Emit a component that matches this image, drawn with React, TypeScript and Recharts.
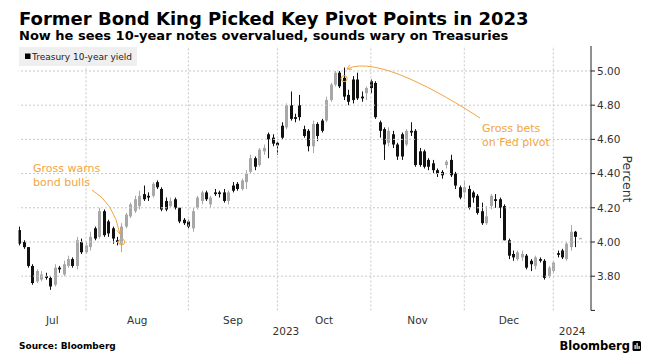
import React from 'react';
import { ComposedChart, Bar, XAxis, YAxis, ReferenceLine, ReferenceDot } from 'recharts';

const FONT = '"DejaVu Sans", Verdana, sans-serif';
const ORANGE = '#f2a53f';
const UP = '#a8a8a8';
const DOWN = '#111111';

// ---- categories: trading days per month ----
const monthNames = ['Jul', 'Aug', 'Sep', 'Oct', 'Nov', 'Dec', 'Jan'];
const monthYears = [2023, 2023, 2023, 2023, 2023, 2023, 2024];
const julDays = [10, 11, 12, 13, 14, 17, 18, 19, 20, 21, 24, 25, 26, 27, 28, 31];
const augDays = [1, 2, 3, 4, 7, 8, 9, 10, 11, 14, 15, 16, 17, 18, 21, 22, 23, 24, 25, 28, 29, 30, 31];
const sepDays = [1, 5, 6, 7, 8, 11, 12, 13, 14, 15, 18, 19, 20, 21, 22, 25, 26, 27, 28, 29];
const octDays = [2, 3, 4, 5, 6, 10, 11, 12, 13, 16, 17, 18, 19, 20, 23, 24, 25, 26, 27, 30, 31];
const novDays = [1, 2, 3, 6, 7, 8, 9, 10, 13, 14, 15, 16, 17, 20, 21, 22, 24, 27, 28, 29, 30];
const decDays = [1, 4, 5, 6, 7, 8, 11, 12, 13, 14, 15, 18, 19, 20, 21, 22, 26, 27, 28, 29];
const janDays = [2, 3, 4, 5, 8, 9];
const tradingDays = [julDays, augDays, sepDays, octDays, novDays, decDays, janDays];

// ---- series: Treasury 10-year yield OHLC (percent) ----
const opens = [
  4.07, 4.0, 3.97, 3.86, 3.77, 3.78, 3.8, 3.79, 3.75, 3.85, 3.81, 3.86, 3.9, 3.86, 4.0, 3.94,
  3.97, 4.08, 4.03, 4.18, 4.12, 4.08, 4.01, 3.99, 4.09, 4.15, 4.18, 4.21, 4.28, 4.27, 4.27, 4.35, 4.31, 4.24, 4.21, 4.25, 4.2, 4.13, 4.12,
  4.08, 4.2, 4.24, 4.29, 4.22, 4.29, 4.29, 4.29, 4.24, 4.33, 4.34, 4.31, 4.35, 4.41, 4.49, 4.45, 4.53, 4.63, 4.61, 4.58,
  4.68, 4.67, 4.8, 4.73, 4.8, 4.66, 4.65, 4.56, 4.69, 4.71, 4.71, 4.83, 4.92, 4.99, 4.96, 4.86, 4.95, 4.95, 4.85, 4.87, 4.94,
  4.93, 4.7, 4.66, 4.58, 4.63, 4.57, 4.63, 4.57, 4.65, 4.65, 4.53, 4.53, 4.48, 4.46, 4.42, 4.41, 4.45, 4.48, 4.4, 4.32, 4.29,
  4.31, 4.29, 4.27, 4.18, 4.11, 4.21, 4.25, 4.25, 4.21, 4.01, 3.93, 3.9, 3.91, 3.92, 3.89, 3.86, 3.9, 3.89, 3.8, 3.83,
  3.935, 3.95, 3.9, 3.97, 4.06, 4.02,
];
const highs = [
  4.09, 4.01, 3.97, 3.87, 3.84, 3.83, 3.82, 3.8, 3.87, 3.86, 3.89, 3.92, 3.91, 4.03, 4.02, 4.0,
  4.06, 4.09, 4.2, 4.19, 4.13, 4.09, 4.03, 4.11, 4.17, 4.23, 4.27, 4.3, 4.33, 4.29, 4.35, 4.36, 4.32, 4.26, 4.26, 4.26, 4.2, 4.14, 4.13,
  4.2, 4.27, 4.3, 4.3, 4.27, 4.31, 4.3, 4.31, 4.3, 4.35, 4.35, 4.37, 4.42, 4.51, 4.5, 4.55, 4.57, 4.64, 4.63, 4.59,
  4.7, 4.81, 4.88, 4.75, 4.86, 4.68, 4.66, 4.71, 4.7, 4.72, 4.85, 4.93, 5.0, 5.0, 5.02, 4.89, 4.97, 4.99, 4.88, 4.91, 4.95,
  4.94, 4.71, 4.67, 4.67, 4.65, 4.58, 4.64, 4.66, 4.7, 4.66, 4.55, 4.54, 4.49, 4.48, 4.43, 4.42, 4.48, 4.51, 4.41, 4.33, 4.36,
  4.33, 4.3, 4.28, 4.23, 4.21, 4.28, 4.28, 4.26, 4.22, 4.02, 3.95, 3.95, 3.95, 3.93, 3.9, 3.92, 3.91, 3.9, 3.86, 3.89,
  3.95, 3.96, 4.0, 4.1, 4.065, 4.025,
];
const lows = [
  3.98, 3.96, 3.85, 3.75, 3.76, 3.77, 3.78, 3.72, 3.74, 3.82, 3.8, 3.85, 3.85, 3.84, 3.93, 3.93,
  3.95, 4.01, 4.02, 4.03, 4.03, 3.99, 3.98, 3.94, 4.08, 4.14, 4.17, 4.19, 4.24, 4.24, 4.26, 4.31, 4.18, 4.18, 4.2, 4.19, 4.11, 4.1, 4.08,
  4.06, 4.19, 4.22, 4.24, 4.2, 4.27, 4.26, 4.23, 4.22, 4.29, 4.3, 4.3, 4.31, 4.4, 4.42, 4.44, 4.51, 4.49, 4.56, 4.51,
  4.6, 4.66, 4.71, 4.7, 4.71, 4.61, 4.53, 4.52, 4.59, 4.64, 4.7, 4.82, 4.91, 4.9, 4.83, 4.8, 4.81, 4.83, 4.82, 4.83, 4.87,
  4.72, 4.61, 4.48, 4.56, 4.55, 4.48, 4.48, 4.56, 4.62, 4.44, 4.44, 4.43, 4.42, 4.4, 4.38, 4.37, 4.43, 4.38, 4.31, 4.25, 4.25,
  4.19, 4.23, 4.16, 4.1, 4.1, 4.19, 4.2, 4.14, 4.01, 3.9, 3.89, 3.89, 3.89, 3.84, 3.83, 3.84, 3.88, 3.78, 3.79, 3.82,
  3.91, 3.9, 3.89, 3.95, 3.97, 4.02,
];
const closes = [
  3.99, 3.97, 3.86, 3.76, 3.83, 3.81, 3.79, 3.74, 3.85, 3.84, 3.87, 3.9, 3.86, 4.01, 3.94, 3.98,
  4.03, 4.02, 4.18, 4.04, 4.05, 4.02, 4.0, 4.09, 4.16, 4.22, 4.25, 4.27, 4.25, 4.26, 4.34, 4.32, 4.19, 4.19, 4.24, 4.2, 4.12, 4.11, 4.09,
  4.18, 4.26, 4.29, 4.25, 4.26, 4.28, 4.28, 4.24, 4.29, 4.3, 4.31, 4.36, 4.4, 4.49, 4.44, 4.54, 4.55, 4.6, 4.575, 4.565,
  4.61, 4.8, 4.72, 4.72, 4.73, 4.62, 4.56, 4.69, 4.62, 4.65, 4.83, 4.92, 4.99, 4.91, 4.85, 4.82, 4.83, 4.84, 4.84, 4.9, 4.9,
  4.73, 4.65, 4.57, 4.65, 4.57, 4.5, 4.5, 4.65, 4.64, 4.45, 4.45, 4.44, 4.44, 4.42, 4.4, 4.39, 4.47, 4.39, 4.33, 4.26, 4.32,
  4.2, 4.26, 4.17, 4.11, 4.15, 4.27, 4.24, 4.2, 4.01, 3.92, 3.91, 3.94, 3.93, 3.85, 3.87, 3.91, 3.89, 3.79, 3.85, 3.88,
  3.925, 3.91, 3.99, 4.06, 4.03, 4.022,
];

// ---- axis ticks ----
const yTicks = [3.6, 3.8, 4.0, 4.2, 4.4, 4.6, 4.8, 5.0];
const yGridValues = [3.8, 4.0, 4.2, 4.4, 4.6, 4.8, 5.0];
const Y_MIN = 3.6;
const Y_MAX = 5.146;
const X_MIN = -0.18;
const X_MAX = 128.47;

// ---- build rows ----
type Row = { i: number; date: string; open: number; high: number; low: number; close: number };
const rows: Row[] = [];
const lastIndexOfMonth: number[] = [];
tradingDays.forEach((days, m) => {
  days.forEach((d) => {
    const k = rows.length;
    rows.push({
      i: k,
      date: `${monthNames[m]} ${d}, ${monthYears[m]}`,
      open: opens[k],
      high: highs[k],
      low: lows[k],
      close: closes[k],
    });
  });
  lastIndexOfMonth.push(rows.length - 1);
});

// month separators at the last trading day of each month
const monthBoundaries = lastIndexOfMonth.slice(0, -1);

const xTickValues: number[] = [];
const xTickLabels: string[] = [];
const xTickIsYear: boolean[] = [];
monthNames.forEach((name, m) => {
  if (name === 'Jan') return;
  const left = m === 0 ? X_MIN : monthBoundaries[m - 1];
  const right = m < monthBoundaries.length ? monthBoundaries[m] : X_MAX;
  xTickValues.push((left + right) / 2);
  xTickLabels.push(name);
  xTickIsYear.push(false);
});
const years = Array.from(new Set(monthYears));
years.forEach((yr) => {
  const firstM = monthYears.indexOf(yr);
  const lastM = monthYears.lastIndexOf(yr);
  const left = firstM === 0 ? X_MIN : monthBoundaries[firstM - 1];
  const right = lastM < monthBoundaries.length ? monthBoundaries[lastM] : X_MAX;
  xTickValues.push((left + right) / 2);
  xTickLabels.push(String(yr));
  xTickIsYear.push(true);
});

// annotation anchors (data coordinates)
const warnIndex = 23; // Aug 10
const warnValue = 4.0;
const pivotIndex = 73; // Oct 23
const pivotValue = 4.955;

function Candle(props: any) {
  const { x, y, width, height, payload } = props;
  if (x == null || y == null || !payload) return null;
  const top = Math.min(y, y + height);
  const h = Math.abs(height);
  const { open, high, low, close } = payload as Row;
  const pix = (v: number) => (high === low ? top : top + ((high - v) / (high - low)) * h);
  const cx = Math.floor(x + width / 2);
  const po = pix(open);
  const pc = pix(close);
  const bTop = Math.min(po, pc);
  const bH = Math.max(1, Math.abs(po - pc));
  const color = close >= open ? UP : DOWN;
  return (
    <g>
      <rect x={cx} y={top} width={1} height={Math.max(h, 1)} fill={color} />
      <rect x={cx - 1} y={bTop} width={3} height={bH} fill={color} />
    </g>
  );
}

function XTick(props: any) {
  const { x, y, payload } = props;
  const k = xTickValues.findIndex((v) => Math.abs(v - payload.value) < 1e-6);
  if (k < 0) return null;
  const isYear = xTickIsYear[k];
  return (
    <text x={x} y={y + (isYear ? 24.5 : 13.5)} textAnchor="middle" fontSize={10.5} fontFamily={FONT} fill="#333">
      {xTickLabels[k]}
    </text>
  );
}

function YTick(props: any) {
  const { x, y, payload } = props;
  if (payload.value < 3.7) return <g />;
  return (
    <text x={x} y={y + 3.8} textAnchor="start" fontSize={10.5} fontFamily={FONT} fill="#333">
      {Number(payload.value).toFixed(2)}
    </text>
  );
}

function arrowHead(tx: number, ty: number, fx: number, fy: number, len = 5) {
  const dx = fx - tx;
  const dy = fy - ty;
  const d = Math.hypot(dx, dy) || 1;
  const ux = dx / d;
  const uy = dy / d;
  const a = Math.PI / 6;
  const r1x = ux * Math.cos(a) - uy * Math.sin(a);
  const r1y = ux * Math.sin(a) + uy * Math.cos(a);
  const r2x = ux * Math.cos(-a) - uy * Math.sin(-a);
  const r2y = ux * Math.sin(-a) + uy * Math.cos(-a);
  return `M${tx + r1x * len},${ty + r1y * len} L${tx},${ty} L${tx + r2x * len},${ty + r2y * len}`;
}

export default function App() {
  return (
    <div style={{ position: 'fixed', left: 0, top: 0, width: 646, height: 363, background: '#fff', overflow: 'hidden' }}>
      <div style={{ position: 'absolute', left: 0, top: 0 }}>
        <ComposedChart
          width={646}
          height={363}
          data={rows}
          margin={{ top: 46, right: 0, bottom: 22.6, left: 18.5 }}
        >
          <XAxis
            xAxisId="x"
            dataKey="i"
            type="number"
            domain={[X_MIN, X_MAX]}
            allowDataOverflow
            ticks={xTickValues}
            interval={0}
            tickLine={false}
            axisLine={false}
            tickSize={0}
            tickMargin={0}
            height={30}
            tick={<XTick />}
          />
          <YAxis
            yAxisId="y"
            orientation="right"
            domain={[Y_MIN, Y_MAX]}
            allowDataOverflow
            ticks={yTicks}
            interval={0}
            width={55}
            tickSize={4}
            tickMargin={2}
            axisLine={{ stroke: '#222' }}
            tickLine={{ stroke: '#222' }}
            tick={<YTick />}
          />
          {yGridValues.map((v) => (
            <ReferenceLine key={`h${v}`} xAxisId="x" yAxisId="y" y={v} stroke="#c8c8c8" strokeDasharray="2 2" />
          ))}
          {monthBoundaries.map((b) => (
            <ReferenceLine key={`v${b}`} xAxisId="x" yAxisId="y" x={b} stroke="#c8c8c8" strokeDasharray="2 2" />
          ))}
          <Bar
            xAxisId="x"
            yAxisId="y"
            dataKey={(d: Row) => [d.low, d.high]}
            barSize={3}
            shape={(p: any) => <Candle {...p} />}
            isAnimationActive={false}
          />
          <ReferenceDot xAxisId="x" yAxisId="y" x={warnIndex} y={warnValue} r={3} fill="none" stroke={ORANGE} strokeWidth={1} />
          <ReferenceDot xAxisId="x" yAxisId="y" x={pivotIndex} y={pivotValue} r={3} fill="none" stroke={ORANGE} strokeWidth={1} />
        </ComposedChart>
      </div>
      <svg width={646} height={363} style={{ position: 'absolute', left: 0, top: 0, pointerEvents: 'none' }}>
        <text x={19} y={25} fontSize={18} fontWeight={700} fontFamily={FONT} fill="#000">
          Former Bond King Picked Key Pivot Points in 2023
        </text>
        <text x={19} y={40} fontSize={13} fontWeight={700} fontFamily={FONT} fill="#000">
          Now he sees 10-year notes overvalued, sounds wary on Treasuries
        </text>
        <rect x={19} y={47} width={118} height={19} fill="#efefef" />
        <rect x={25} y={53.5} width={5.5} height={5.5} fill="#000" />
        <text x={32} y={59.5} fontSize={9} fontFamily={FONT} fill="#222">
          Treasury 10-year yield
        </text>
        <text transform="translate(623,179) rotate(90)" textAnchor="middle" fontSize={12.5} fontFamily={FONT} fill="#333">
          Percent
        </text>
        <text fontSize={11} fontFamily={FONT} fill={ORANGE}>
          <tspan x={33} y={172}>Gross warns</tspan>
          <tspan x={33} y={186}>bond bulls</tspan>
        </text>
        <path d="M92,190 Q114,203 120,234" stroke={ORANGE} fill="none" strokeWidth={1} />
        <path d={arrowHead(120, 234, 114, 203)} stroke={ORANGE} fill="none" strokeWidth={1} />
        <text fontSize={11} fontFamily={FONT} fill={ORANGE}>
          <tspan x={482} y={132}>Gross bets</tspan>
          <tspan x={482} y={146}>on Fed pivot</tspan>
        </text>
        <path d="M480,118 C440,92 375,55 347,69" stroke={ORANGE} fill="none" strokeWidth={1} />
        <path d={arrowHead(347, 69, 375, 55)} stroke={ORANGE} fill="none" strokeWidth={1} />
        <text x={19} y={349} fontSize={9} fontWeight={700} fontFamily={FONT} fill="#000">
          Source: Bloomberg
        </text>
        <text x={630} y={350} textAnchor="end" fontSize={11.5} fontWeight={700} fontFamily={FONT} fill="#000">
          Bloomberg
        </text>
        <rect x={632.5} y={341} width={8.5} height={10} rx={1.5} fill="#000" />
        <rect x={634.5} y={345} width={1.2} height={4} fill="#fff" />
        <rect x={636.5} y={343} width={1.2} height={6} fill="#fff" />
        <rect x={638.5} y={346} width={1.2} height={3} fill="#fff" />
      </svg>
    </div>
  );
}
